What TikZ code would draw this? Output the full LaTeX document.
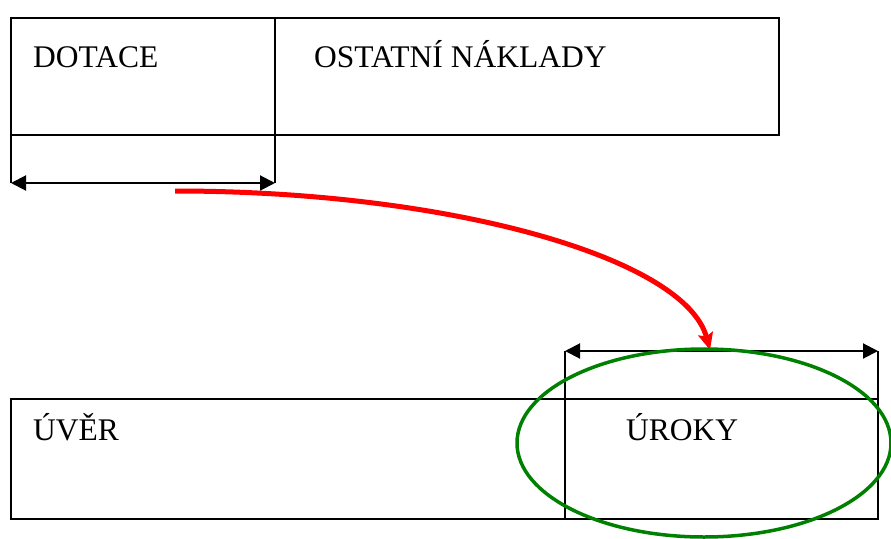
\documentclass[tikz,border=0pt]{standalone}
\usepackage{fontspec}
\setmainfont{Liberation Serif}
\usetikzlibrary{arrows.meta}
\usetikzlibrary{shapes.geometric}
\definecolor{loanred}{RGB}{255,0,0}
\definecolor{loangreen}{RGB}{0,128,0}
\tikzset{
    box/.style = {draw, line width=2pt, anchor=north west, inner sep=0pt, outer sep=0pt},
    lbl/.style = {anchor=base west, inner sep=0pt, font=\fontsize{31.5}{36}\selectfont},
    ext/.style = {line width=2pt},
    dim/.style = {line width=2pt, {Triangle[length=15pt,width=15pt]}-{Triangle[length=15pt,width=15pt]}}
}

\begin{document}
\begin{tikzpicture}[x=1pt, y=-1pt]
            \useasboundingbox (0,0) rectangle (891,538);
            % top row
            \node[box, minimum width=264pt, minimum height=117pt] (dotace) at (11,18) {};
            \node[box, minimum width=504pt, minimum height=117pt] (naklady) at (275,18) {};
            \node[lbl] (tdotace) at (33,67) {DOTACE};
            \node[lbl] (tnaklady) at (314,67) {OSTATNÍ NÁKLADY};
            \coordinate (da) at (11,183);
            \coordinate (db) at (275,183);
            \draw[ext] (dotace.south west) -- (da);
            \draw[ext] (dotace.south east) -- (db);
            \draw[dim] (da) -- (db);
            % bottom row
            \node[box, minimum width=554pt, minimum height=120pt] (uver) at (11,399) {};
            \node[box, minimum width=313pt, minimum height=120pt] (uroky) at (565,399) {};
            \node[lbl] (tuver) at (33,440) {ÚVĚR};
            \node[lbl] (turoky) at (626,440) {ÚROKY};
            \coordinate (ua) at (565,351);
            \coordinate (ub) at (878,351);
            \draw[ext] (uroky.north west) -- (ua);
            \draw[ext] (uroky.north east) -- (ub);
            \draw[dim] (ua) -- (ub);
            % transfer
            \coordinate (from) at (175,191);
            \coordinate (to) at (710,350);
            \draw[loanred, line width=5pt, -{Stealth[length=17pt,width=15pt,inset=3pt]}] (from) .. controls (450,191) and (685,258) .. (to);
            \node[draw=loangreen, line width=3.5pt, ellipse, minimum width=374pt, minimum height=188pt, inner sep=0pt] (kruh) at (704,443) {};
        \end{tikzpicture}
\end{document}
